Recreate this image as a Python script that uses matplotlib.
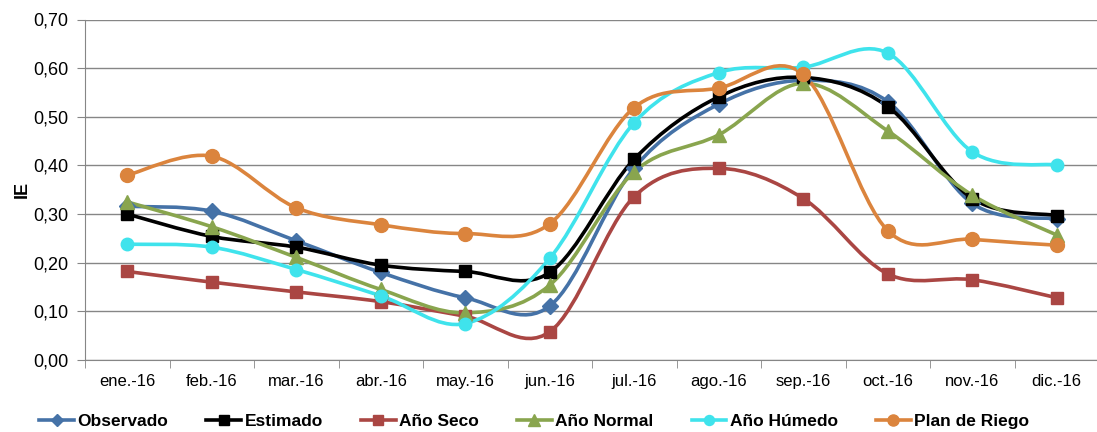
import numpy as np
import matplotlib
matplotlib.use("Agg")
from matplotlib import pyplot as plt
from matplotlib.path import Path
from matplotlib.patches import PathPatch

plt.rcParams['font.family'] = ['Liberation Sans Narrow', 'Liberation Sans', 'DejaVu Sans']

months = ["ene.-16", "feb.-16", "mar.-16", "abr.-16", "may.-16", "jun.-16",
          "jul.-16", "ago.-16", "sep.-16", "oct.-16", "nov.-16", "dic.-16"]

observado = [0.316, 0.306, 0.245, 0.180, 0.128, 0.111, 0.395, 0.526, 0.575, 0.531, 0.322, 0.290]
estimado = [0.300, 0.254, 0.232, 0.195, 0.182, 0.180, 0.413, 0.541, 0.581, 0.521, 0.332, 0.297]
ano_seco = [0.182, 0.160, 0.140, 0.120, 0.090, 0.058, 0.336, 0.394, 0.332, 0.177, 0.165, 0.128]
ano_normal = [0.325, 0.274, 0.211, 0.145, 0.097, 0.154, 0.387, 0.463, 0.569, 0.471, 0.339, 0.257]
ano_humedo = [0.238, 0.232, 0.186, 0.132, 0.075, 0.209, 0.488, 0.591, 0.602, 0.631, 0.428, 0.401]
plan_riego = [0.380, 0.419, 0.313, 0.278, 0.260, 0.280, 0.519, 0.559, 0.587, 0.266, 0.248, 0.236]

series = [
    ("Observado", observado, "#4572A7", "D", 8),
    ("Estimado", estimado, "#000000", "s", 9),
    ("Año Seco", ano_seco, "#AA4643", "s", 9),
    ("Año Normal", ano_normal, "#89A54E", "^", 10),
    ("Año Húmedo", ano_humedo, "#3FE3EC", "o", 9),
    ("Plan de Riego", plan_riego, "#DB843D", "o", 10),
]


def smooth_path(x, y, t=1 / 6):
    # Excel-like smoothed line: cubic Bezier through every point
    x = np.asarray(x, float)
    y = np.asarray(y, float)
    n = len(x)
    verts = [(x[0], y[0])]
    codes = [Path.MOVETO]
    for i in range(n - 1):
        p0 = (x[max(i - 1, 0)], y[max(i - 1, 0)])
        p1 = (x[i], y[i])
        p2 = (x[i + 1], y[i + 1])
        p3 = (x[min(i + 2, n - 1)], y[min(i + 2, n - 1)])
        c1 = (p1[0] + (p2[0] - p0[0]) * t, p1[1] + (p2[1] - p0[1]) * t)
        c2 = (p2[0] - (p3[0] - p1[0]) * t, p2[1] - (p3[1] - p1[1]) * t)
        verts += [c1, c2, p2]
        codes += [Path.CURVE4] * 3
    return Path(verts, codes)


fig = plt.figure(figsize=(10.97, 4.32), dpi=100)
ax = fig.add_axes([85 / 1097, 1 - 360 / 432, 1014 / 1097, 340.5 / 432])

x = np.arange(len(months))
handles = []
for name, vals, color, marker, ms in series:
    patch = PathPatch(smooth_path(x, vals), facecolor="none", edgecolor=color,
                      lw=2.6, zorder=3, capstyle="round")
    ax.add_patch(patch)
    ax.plot(x, vals, linestyle="none", color=color, marker=marker,
            markersize=ms, markeredgecolor=color, zorder=4)
    handles.append(ax.plot([], [], color=color, lw=2.6, marker=marker,
                           markersize=ms, label=name)[0])

ax.set_xlim(-0.5, 11.5)
ax.set_ylim(0, 0.70)
ax.set_yticks(np.arange(0, 0.71, 0.1))
ax.set_yticklabels([f"{v:.2f}".replace(".", ",") for v in np.arange(0, 0.71, 0.1)])
ax.set_xticks(x)
ax.set_xticklabels(months)
ax.set_xticks(np.arange(-0.5, 12, 1), minor=True)
ax.tick_params(axis="x", which="major", length=0, pad=10, labelsize=12)
ax.tick_params(axis="x", which="minor", length=6, color="#868686")
ax.tick_params(axis="y", length=6, color="#868686", labelsize=13, pad=6)
ax.grid(axis="y", color="#868686", lw=1)
ax.set_axisbelow(True)
for s in ["top", "right"]:
    ax.spines[s].set_visible(False)
ax.spines["left"].set_color("#868686")
ax.spines["bottom"].set_color("#868686")
ax.set_ylabel("IE", fontsize=13, fontweight="bold", labelpad=2)

fig.legend(handles=handles, loc="center", bbox_to_anchor=(0.487, 0.025), ncol=6,
           frameon=False, prop={"size": 12.5, "weight": "bold"}, handlelength=2.0,
           handletextpad=0.2, columnspacing=2.2, markerscale=0.8)

fig.savefig("out.png", dpi=100)
